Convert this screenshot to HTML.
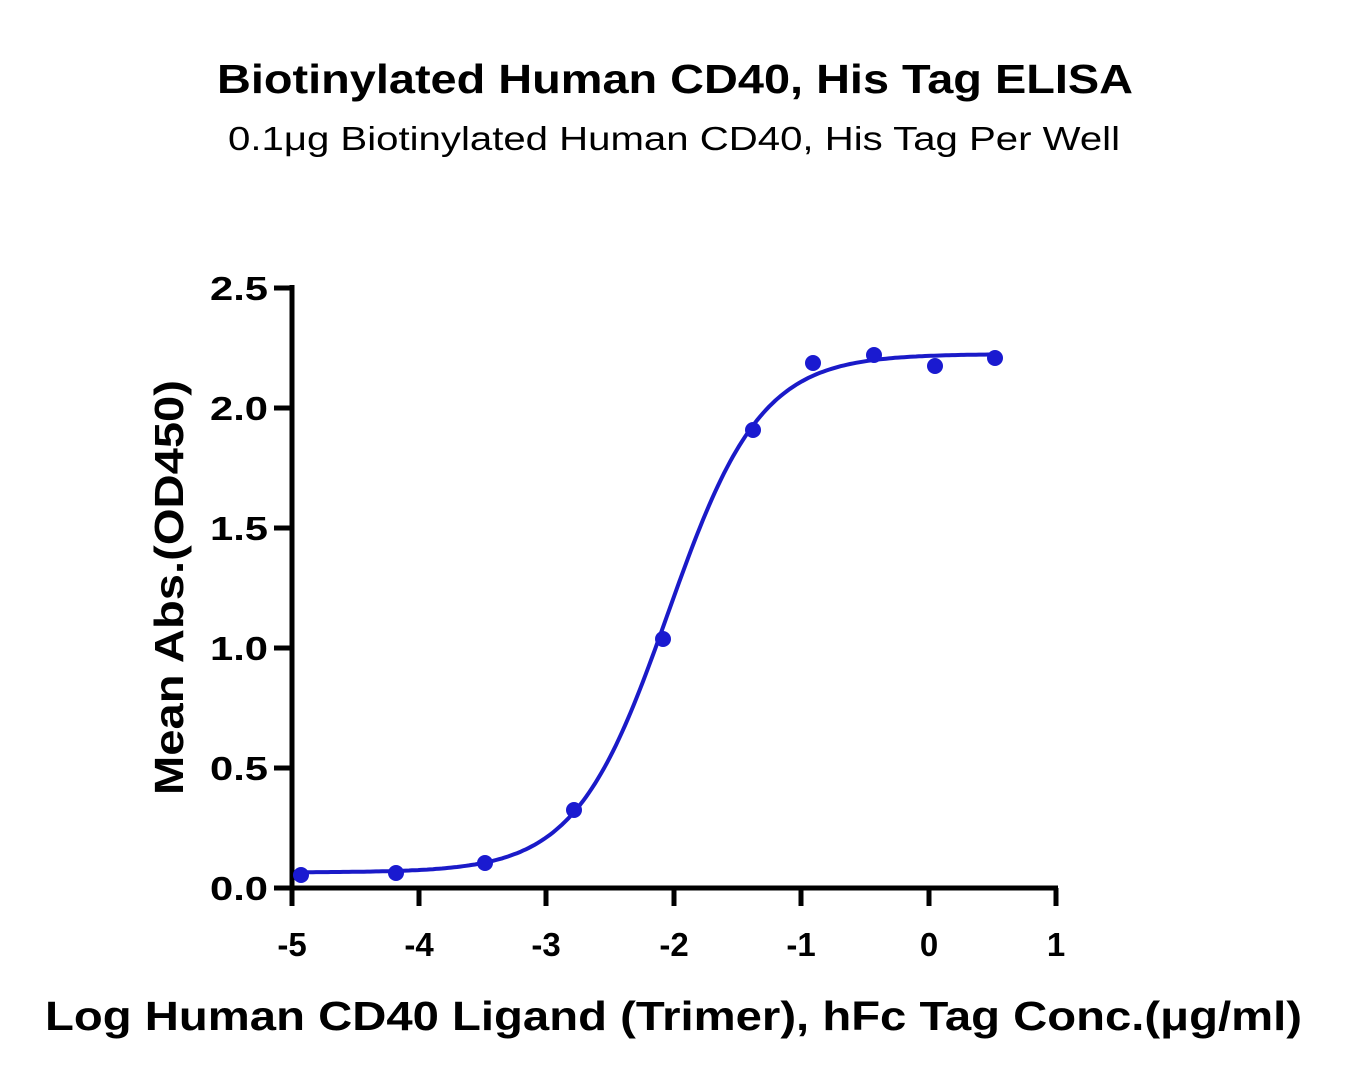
<!DOCTYPE html>
<html><head><meta charset="utf-8"><style>
html,body{margin:0;padding:0;background:#fff;}
svg text{font-family:"Liberation Sans",sans-serif;fill:#000;}
</style></head><body>
<svg id="s" width="1347" height="1087" xmlns="http://www.w3.org/2000/svg">
<text x="217" y="93" font-size="41" font-weight="bold" textLength="916" lengthAdjust="spacingAndGlyphs">Biotinylated Human CD40, His Tag ELISA</text>
<text x="228" y="150" font-size="33" textLength="892" lengthAdjust="spacingAndGlyphs">0.1μg Biotinylated Human CD40, His Tag Per Well</text>
<g stroke="#000" stroke-width="5" fill="none">
<line x1="292" y1="285" x2="292" y2="890"/>
<line x1="290" y1="888" x2="1058" y2="888"/>
<line x1="274" y1="288" x2="292" y2="288"/>
<line x1="274" y1="408" x2="292" y2="408"/>
<line x1="274" y1="528" x2="292" y2="528"/>
<line x1="274" y1="648" x2="292" y2="648"/>
<line x1="274" y1="768" x2="292" y2="768"/>
<line x1="274" y1="888" x2="292" y2="888"/>
<line x1="292" y1="888" x2="292" y2="906"/>
<line x1="419" y1="888" x2="419" y2="906"/>
<line x1="546" y1="888" x2="546" y2="906"/>
<line x1="674" y1="888" x2="674" y2="906"/>
<line x1="801" y1="888" x2="801" y2="906"/>
<line x1="929" y1="888" x2="929" y2="906"/>
<line x1="1056" y1="888" x2="1056" y2="906"/>
</g>
<g font-size="33" font-weight="bold">
<text x="210" y="300" textLength="58" lengthAdjust="spacingAndGlyphs">2.5</text>
<text x="210" y="420" textLength="58" lengthAdjust="spacingAndGlyphs">2.0</text>
<text x="210" y="540" textLength="58" lengthAdjust="spacingAndGlyphs">1.5</text>
<text x="210" y="660" textLength="58" lengthAdjust="spacingAndGlyphs">1.0</text>
<text x="210" y="780" textLength="58" lengthAdjust="spacingAndGlyphs">0.5</text>
<text x="210" y="900" textLength="58" lengthAdjust="spacingAndGlyphs">0.0</text>
</g>
<g font-size="33" font-weight="bold" text-anchor="middle">
<text x="292" y="956">-5</text>
<text x="419" y="956">-4</text>
<text x="546" y="956">-3</text>
<text x="674" y="956">-2</text>
<text x="801" y="956">-1</text>
<text x="929" y="956">0</text>
<text x="1056" y="956">1</text>
</g>
<text x="45" y="1030" font-size="41" font-weight="bold" textLength="1257" lengthAdjust="spacingAndGlyphs">Log Human CD40 Ligand (Trimer), hFc Tag Conc.(μg/ml)</text>
<text transform="translate(183,795) rotate(-90)" font-size="41" font-weight="bold" textLength="415" lengthAdjust="spacingAndGlyphs">Mean Abs.(OD450)</text>
<path id="c" fill="none" stroke="#1a1ac8" stroke-width="4"/>
<g fill="#1a1ad0">
<circle cx="301" cy="875" r="8"/><circle cx="396" cy="873" r="8"/><circle cx="485" cy="863" r="8"/>
<circle cx="574" cy="810" r="8"/><circle cx="663" cy="639" r="8"/><circle cx="753" cy="430" r="8"/>
<circle cx="813" cy="363" r="8"/><circle cx="874" cy="355" r="8"/><circle cx="935" cy="366" r="8"/>
<circle cx="995" cy="358" r="8"/>
</g>
</svg>
<script>
var d="";for(var px=298;px<=996;px+=3){var l=-5+(px-291)/127.5;var y=0.065+2.16/(1+Math.exp(-2.75*(l+2.043)));var py=888-240*y;d+=(d?"L":"M")+px+","+py.toFixed(1);}
document.getElementById("c").setAttribute("d",d);
</script>
</body></html>
